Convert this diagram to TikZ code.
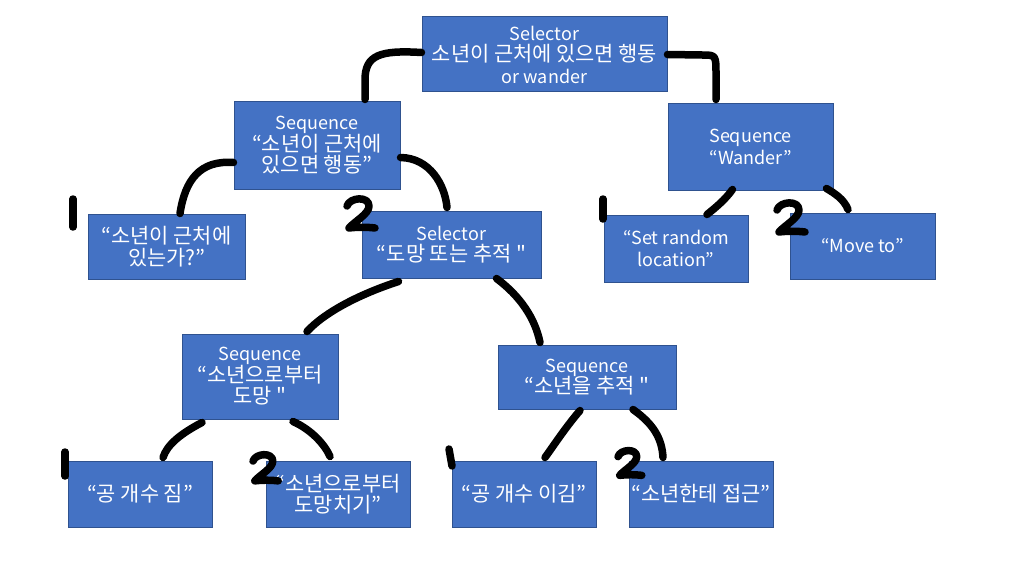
\documentclass[tikz,border=0pt]{standalone}
\usepackage{fontspec}
\setmainfont{Noto Sans CJK KR}
\newfontfamily\kr[Scale=1.16]{Noto Sans CJK KR}
\definecolor{boxblue}{HTML}{4472C4}
\definecolor{boxedge}{HTML}{2F528F}
\begin{document}
\begin{tikzpicture}[x=1pt,y=-1pt,
  bt/.style={draw=boxedge, line width=1pt, fill=boxblue, text=white, align=center,
    inner sep=2pt, font=\fontsize{18}{21.5}\selectfont},
  handline/.style={line width=7.5pt, line cap=round, line join=round, black},
  pics/twomark/.style={code={
    \draw[handline] (0,9) .. controls (3,0) and (22,-1) .. (22,9)
      .. controls (22,17) and (8,24) .. (2,31) .. controls (10,30) and (20,30) .. (28,31);}}
]
\useasboundingbox (0,0) rectangle (1009,567);
\fill[white] (0,0) rectangle (1009,567);

\node[bt, minimum width=245, minimum height=75] (root) at (544.5,54.5) {Selector\\{\kr 소년이 근처에 있으면 행동}\\or wander};
\node[bt, minimum width=166, minimum height=87] (seq1) at (317,145.5) {Sequence\\{\kr “소년이 근처에}\\{\kr 있으면 행동”}};
\node[bt, minimum width=165, minimum height=86] (wander) at (750.5,147) {Sequence\\“Wander”};
\node[bt, minimum width=157, minimum height=65] (leaf1) at (166.5,246.5) {{\kr “소년이 근처에}\\{\kr 있는가?”}};
\node[bt, minimum width=179, minimum height=67] (sel2) at (451.5,244.5) {Selector\\{\kr “도망 또는 추적 "}};
\node[bt, minimum width=144, minimum height=67] (setloc) at (676,248.5) {“Set random\\location”};
\node[bt, minimum width=145, minimum height=66] (move) at (862.5,246) {“Move to”};
\node[bt, minimum width=156, minimum height=85] (flee) at (260,376.5) {Sequence\\{\kr “소년으로부터}\\{\kr 도망 "}};
\node[bt, minimum width=178, minimum height=64] (chase) at (587,377) {Sequence\\{\kr “소년을 추적 "}};
\node[bt, minimum width=144, minimum height=66] (l1) at (140,494) {{\kr “공 개수 짐”}};
\node[bt, minimum width=144, minimum height=66] (l2) at (338,494) {{\kr “소년으로부터}\\{\kr 도망치기”}};
\node[bt, minimum width=144, minimum height=66] (l3) at (524,494) {{\kr “공 개수 이김”}};
\node[bt, minimum width=144, minimum height=66] (l4) at (701,494) {{\kr “소년한테 접근”}};

% connectors
\draw[handline] ([yshift=2pt]root.west) .. controls (380,50) and (365,55) .. (365,80) -- ([xshift=48pt,yshift=2pt]seq1.north);
\draw[handline] (root.east) -- (702,55) .. controls (716,55) .. (716,75) -- ([xshift=-34.5pt,yshift=4pt]wander.north);
\draw[handline] ([yshift=-17pt]seq1.west) .. controls (200,160) and (185,180) .. ([xshift=13.5pt]leaf1.north);
\draw[handline] ([yshift=-12pt]seq1.east) .. controls (430,158) and (445,185) .. ([xshift=-4.5pt,yshift=3pt]sel2.north);
\draw[handline] ([xshift=-18pt,yshift=1pt]wander.south) .. controls (725,200) and (715,208) .. ([xshift=31pt]setloc.north);
\draw[handline] ([xshift=76pt,yshift=2pt]wander.south) .. controls (834,193) and (844,199) .. ([xshift=-14.5pt,yshift=3pt]move.north);
\draw[handline] ([xshift=-53pt,yshift=-3pt]sel2.south) .. controls (360,294) and (325,312) .. ([xshift=47pt,yshift=2pt]flee.north);
\draw[handline] ([xshift=45pt]sel2.south) .. controls (520,296) and (535,318) .. ([xshift=-47pt,yshift=2pt]chase.north);
\draw[handline] ([xshift=-58pt,yshift=-3pt]flee.south) .. controls (180,434) and (167,445) .. ([xshift=23pt,yshift=3pt]l1.north);
\draw[handline] ([xshift=33pt,yshift=-2pt]flee.south) .. controls (312,430) and (325,445) .. ([xshift=-8pt,yshift=4pt]l2.north);
\draw[handline] ([xshift=-7pt,yshift=-1pt]chase.south) .. controls (565,428) and (552,448) .. ([xshift=21pt,yshift=3pt]l3.north);
\draw[handline] ([xshift=46pt]chase.south) .. controls (655,425) and (662,440) .. ([xshift=-38pt,yshift=3pt]l4.north);

% order marks
\coordinate (m1a) at (73,199); \coordinate (m1b) at (73,227);
\draw[handline] (m1a) -- (m1b);
\coordinate (m2a) at (603,199); \coordinate (m2b) at (603,219);
\draw[handline] (m2a) -- (m2b);
\coordinate (m3a) at (65,452); \coordinate (m3b) at (65,476);
\draw[handline] (m3a) -- (m3b);
\coordinate (m4a) at (449,449); \coordinate (m4b) at (452,466);
\draw[handline] (m4a) -- (m4b);
\pic at (347,197) {twomark};
\pic[scale=1] at (777,201) {twomark};
\pic[scale=0.9] at (253,453) {twomark};
\pic[scale=0.85] at (618,449) {twomark};
\end{tikzpicture}
\end{document}
